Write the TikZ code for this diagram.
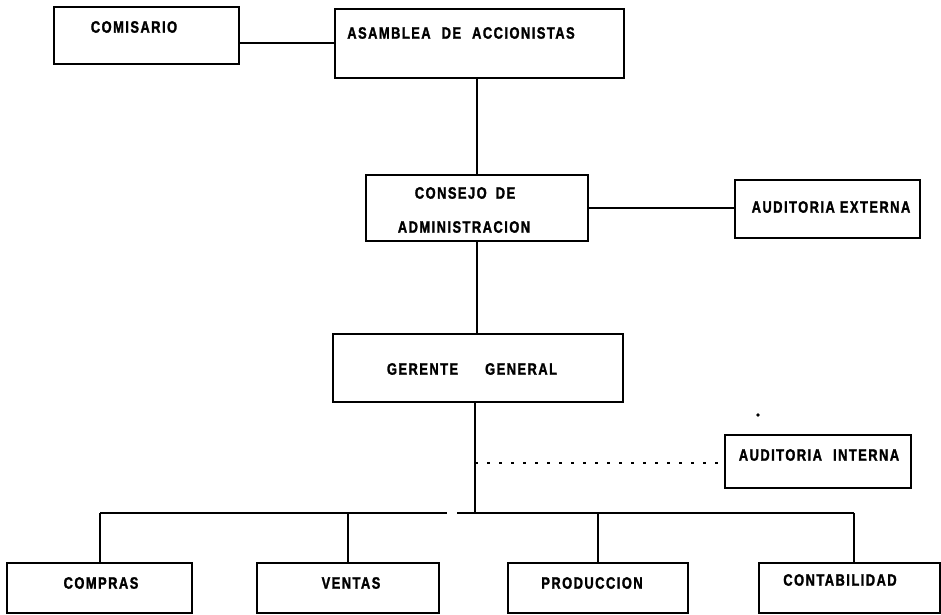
\documentclass[tikz,border=0pt]{standalone}
\usepackage{fontspec}
\setmainfont{Liberation Sans}[FakeStretch=0.78,LetterSpace=9]
\begin{document}
\begin{tikzpicture}[x=1pt,y=-1pt,
  box/.style={draw=black,line width=1.8pt,rectangle,inner sep=0pt},
  lbl/.style={font=\fontsize{16.5}{19}\selectfont\bfseries\addfontfeatures{FakeBold=1.6},inner sep=0pt,anchor=center},
  conn/.style={draw=black,line width=1.8pt},
  dotconn/.style={draw=black,line width=1.8pt,dash pattern=on 2.5pt off 9.5pt}]
\useasboundingbox[fill=white] (0,0) rectangle (941,614);
% boxes
\node[box,minimum width=185pt,minimum height=57pt] (com) at (146.5,35.5) {};
\node[box,minimum width=289pt,minimum height=69pt] (asa) at (479.5,43.5) {};
\node[box,minimum width=222pt,minimum height=66pt] (con) at (477,208) {};
\node[box,minimum width=185pt,minimum height=58pt] (ae) at (827.5,209) {};
\node[box,minimum width=290pt,minimum height=68pt] (ger) at (478,368) {};
\node[box,minimum width=186pt,minimum height=53pt] (ai) at (818,461.5) {};
\node[box,minimum width=185pt,minimum height=50pt] (cmp) at (99.5,588) {};
\node[box,minimum width=182pt,minimum height=50pt] (ven) at (348,588) {};
\node[box,minimum width=180pt,minimum height=50pt] (pro) at (598,588) {};
\node[box,minimum width=181pt,minimum height=50pt] (cnt) at (849.5,588) {};
% labels
\node[lbl] (comt) at (134,27) {COMISARIO};
\node[lbl] (asat) at (461,33) {ASAMBLEA\hspace{6pt} DE\hspace{6pt} ACCIONISTAS};
\node[lbl] (cont1) at (465,193) {CONSEJO\hspace{4pt} DE};
\node[lbl] (cont2) at (464,227) {ADMINISTRACION};
\node[lbl] (aet) at (831,207) {AUDITORIA EXTERNA};
\node[lbl] (gert) at (472,369) {GERENTE\hspace{22pt} GENERAL};
\node[lbl] (ait) at (819,455) {AUDITORIA\hspace{6pt} INTERNA};
\node[lbl] (cmpt) at (101,583) {COMPRAS};
\node[lbl] (vent) at (351,583) {VENTAS};
\node[lbl] (prot) at (592,583) {PRODUCCION};
\node[lbl] (cntt) at (840,580) {CONTABILIDAD};
% coordinates
\coordinate (bus) at (475,513);
\coordinate (bl) at (100,513);
\coordinate (gl) at (447,513);
\coordinate (gr) at (457,513);
\coordinate (br) at (854,513);
\coordinate (dj) at (475,463);
% connectors
\draw[conn] (com.east |- 0,43) -- (asa.west |- 0,43);
\draw[conn] (con.north |- asa.south) -- (con.north);
\draw[conn] (con.east) -- (ae.west |- con.east);
\draw[conn] (con.south) -- (con.south |- ger.north);
\draw[conn] (ger.south -| bus) -- (bus);
\draw[dotconn] (dj) -- (dj -| ai.west);
\draw[conn] (bl) -- (gl);
\draw[conn] (gr) -- (br);
\draw[conn] (bl) -- (bl |- cmp.north);
\draw[conn] (ven.north |- bus) -- (ven.north);
\draw[conn] (pro.north |- bus) -- (pro.north);
\draw[conn] (br) -- (br |- cnt.north);
\fill (758,415) circle (1.8pt);
\end{tikzpicture}
\end{document}
